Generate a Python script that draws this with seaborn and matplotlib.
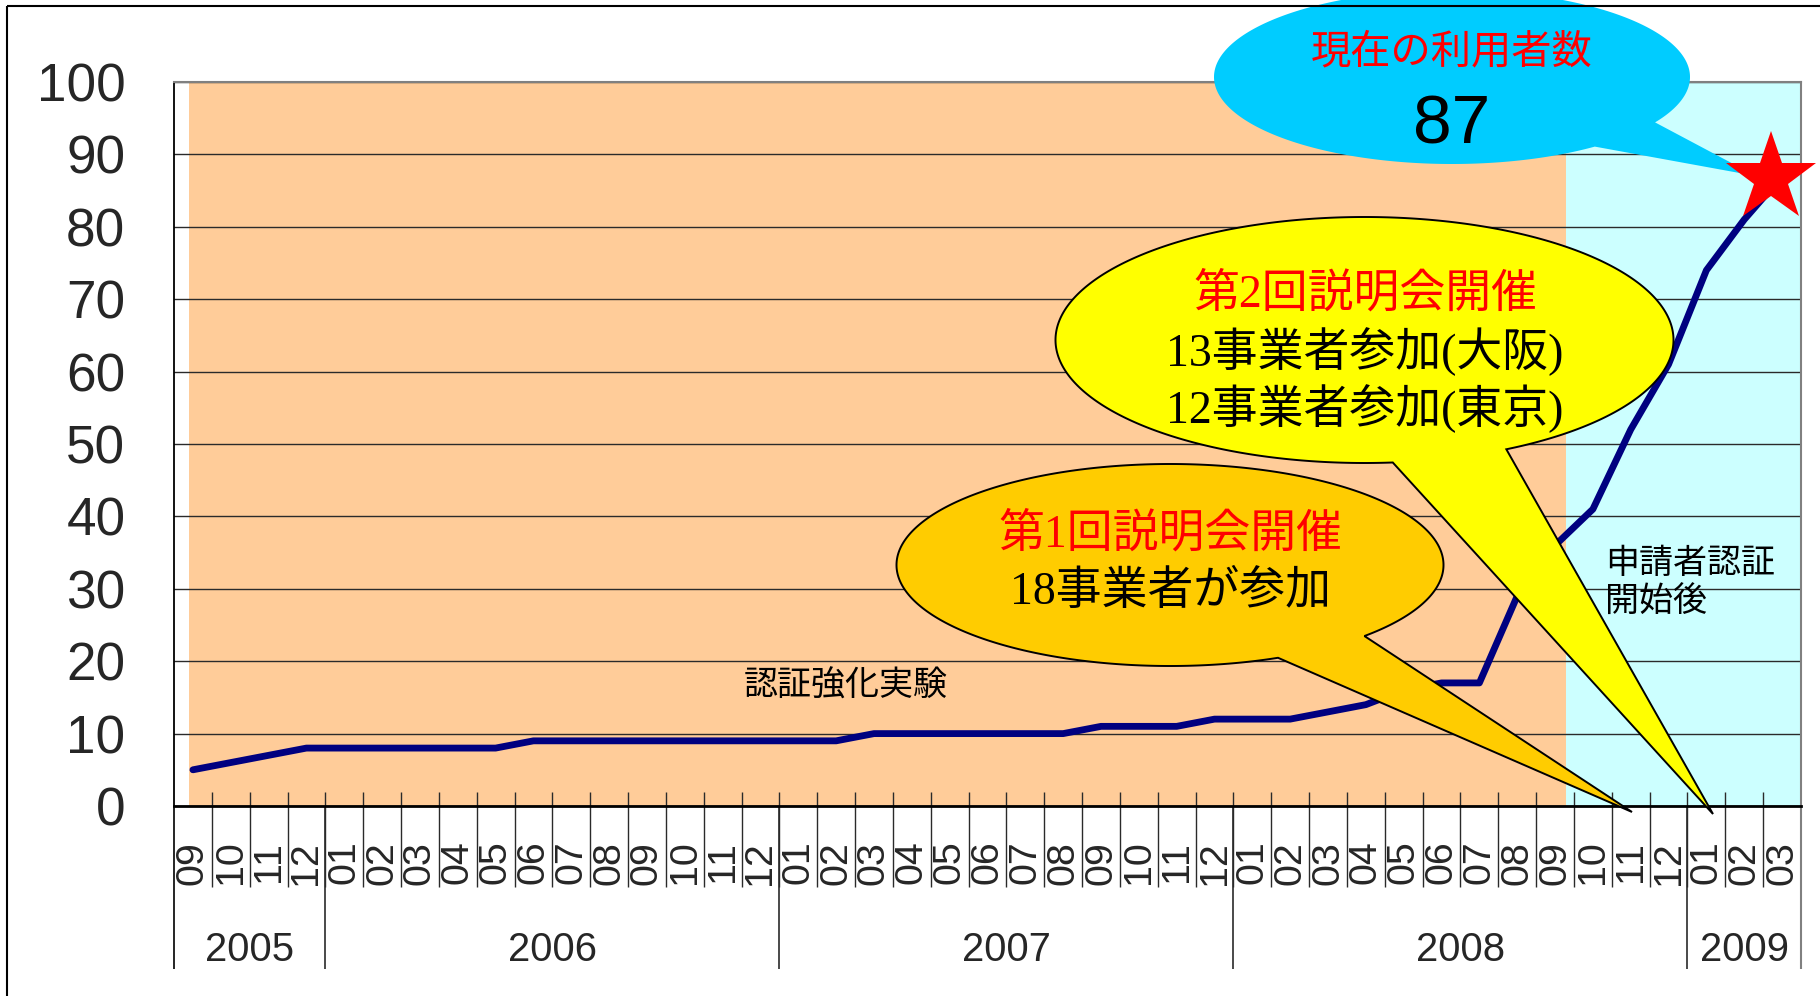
import numpy as np
import pandas as pd
import matplotlib
matplotlib.use("Agg")
import matplotlib.pyplot as plt
import matplotlib.transforms as mtransforms
from matplotlib.patches import Polygon, Rectangle
from matplotlib import font_manager as fm
import seaborn as sns

# ---------------- data ----------------
year_labels = ["2005", "2006", "2007", "2008", "2009"]
months_per_year = [4, 12, 12, 12, 3]
month_labels = (["09", "10", "11", "12"]
                + [f"{m:02d}" for m in range(1, 13)] * 3
                + ["01", "02", "03"])
users = [5, 6, 7, 8,
         8, 8, 8, 8, 8, 9, 9, 9, 9, 9, 9, 9,
         9, 9, 10, 10, 10, 10, 10, 10, 11, 11, 11, 12,
         12, 12, 13, 14, 16, 17, 17, 29, 36, 41, 52, 61,
         74, 81, 87]
y_ticks = list(range(0, 101, 10))

band_experiment_label = "認証強化実験"
band_after_label = "申請者認証\n開始後"
current_title = "現在の利用者数"
current_value = "87"
second_lines = ["第2回説明会開催", "13事業者参加(大阪)", "12事業者参加(東京)"]
first_lines = ["第1回説明会開催", "18事業者が参加"]

# ---------------- fonts ----------------
def has_font(name):
    try:
        fm.findfont(fm.FontProperties(family=name), fallback_to_default=False)
        return True
    except Exception:
        return False

if has_font("Liberation Sans Narrow"):
    NARROW, NS = "Liberation Sans Narrow", 1.0
else:
    NARROW, NS = "Liberation Sans", 0.86
CJK = ["Noto Sans CJK JP", "DejaVu Sans"]
SERIF_CJK = ["Liberation Serif", "Noto Sans CJK JP", "DejaVu Sans"]

sns.set_style("white")
plt.rcParams["font.family"] = CJK

# ---------------- figure / axes ----------------
W_PX, H_PX = 1820, 996
fig = plt.figure(figsize=(W_PX / 100, H_PX / 100), dpi=100)
ax_l, ax_r, ax_t, ax_b = 174, 1801, 82, 806
ax = fig.add_axes([ax_l / W_PX, 1 - ax_b / H_PX,
                   (ax_r - ax_l) / W_PX, (ax_b - ax_t) / H_PX])
px = mtransforms.Affine2D().scale(1 / W_PX, -1 / H_PX).translate(0, 1) + fig.transFigure

n = len(users)
df = pd.DataFrame({"idx": np.arange(n), "users": users})

# background bands
ax.axvspan(-0.1, 36.28, color="#FFCC99", lw=0, zorder=0)
ax.axvspan(36.28, n - 0.5, color="#CCFFFF", lw=0, zorder=0)

sns.lineplot(data=df, x="idx", y="users", ax=ax, color="#000080",
             linewidth=4.9, zorder=3, solid_capstyle="round")
ax.set_xlabel("")
ax.set_ylabel("")
ax.set_xlim(-0.5, n - 0.5)
ax.set_ylim(0, 100)

# grid
ax.set_yticks(y_ticks)
ax.set_yticklabels([str(v) for v in y_ticks], fontfamily=NARROW, fontsize=44.5 * NS)
ax.set_axisbelow("line")
ax.yaxis.grid(True, color="#2a2a2a", lw=1.0)
ax.xaxis.grid(False)
ax.tick_params(axis="y", length=0, pad=35)

# spines
for s in ("left", "bottom"):
    ax.spines[s].set_color("black")
ax.spines["left"].set_linewidth(1.3)
ax.spines["bottom"].set_linewidth(2.0)
for s in ("top", "right"):
    ax.spines[s].set_color("#808080")
    ax.spines[s].set_linewidth(1.5)

# month labels
ax.set_xticks(np.arange(n))
ax.set_xticklabels(month_labels, rotation=90, fontfamily=NARROW, fontsize=33 * NS)
ax.tick_params(axis="x", length=0, pad=25)

trans = mtransforms.blended_transform_factory(ax.transData, ax.transAxes)
ah = ax_b - ax_t
bounds = np.arange(0.5, n - 1, 1.0)
ax.vlines(bounds, -(887 - ax_b) / ah, 14 / ah, transform=trans,
          colors="#2a2a2a", lw=1.0, clip_on=False, zorder=2)
year_edges = np.cumsum([0] + months_per_year) - 0.5
ax.vlines(year_edges[:-1], -(969 - ax_b) / ah, 0, transform=trans,
          colors=["black"] + ["#2a2a2a"] * (len(year_edges) - 2), lw=1.2,
          clip_on=False, zorder=2)
ax.vlines([year_edges[-1]], -(969 - ax_b) / ah, 0, transform=trans,
          colors="#808080", lw=1.5, clip_on=False, zorder=2)
for lab, s, e in zip(year_labels, year_edges[:-1], year_edges[1:]):
    ax.text((s + e) / 2, -(950 - ax_b) / ah, lab, transform=trans,
            ha="center", va="center", fontfamily=NARROW, fontsize=33.5 * NS)

# band labels
ax.text(17.25, 16.5, band_experiment_label, ha="center", va="center",
        fontsize=24.5, color="black", zorder=4)
ax.text(37.33, 30.8, band_after_label, ha="left", va="center",
        fontsize=24.5, color="black", linespacing=1.15, zorder=4)

# ---------------- callouts ----------------
def callout(cx, cy, a, b, base1, base2, tip, fc, ec, lw, z):
    t1 = np.arctan2((base1[1] - cy) / b, (base1[0] - cx) / a)
    t2 = np.arctan2((base2[1] - cy) / b, (base2[0] - cx) / a)
    if t2 < t1:
        t2 += 2 * np.pi
    ts = np.linspace(t1, t2, 500)
    pts = np.column_stack([cx + a * np.cos(ts), cy + b * np.sin(ts)])
    pts = np.vstack([pts, tip])
    poly = Polygon(pts, closed=True, transform=px, facecolor=fc,
                   edgecolor=ec if ec else "none", lw=lw, clip_on=False,
                   zorder=z, joinstyle="miter")
    ax.add_patch(poly)

callout(1170, 565, 273.5, 101, (1280, 659.5), (1366, 636.6), (1632, 812),
        "#FFCC00", "black", 1.4, 5)
callout(1364.5, 340, 309, 123, (1393, 463.5), (1506.5, 449.4), (1713, 814),
        "#FFFF00", "black", 1.4, 6)
callout(1452, 77, 238, 87, (1595, 146.7), (1656.5, 122.7), (1756, 176),
        "#00CCFF", None, 0, 7)

def ftext(x, y, s, color, size, family):
    ax.text(x, y, s, transform=px, ha="center", va="center", color=color,
            fontsize=size, fontfamily=family, zorder=8, clip_on=False)

ftext(1452, 52, current_title, "#FF0000", 29, CJK)
ftext(1452, 125, current_value, "black", 50, NARROW)
for i, s in enumerate(second_lines):
    ftext(1365, 295 + 57 * i, s, "#FF0000" if i == 0 else "black", 33, SERIF_CJK)
for i, s in enumerate(first_lines):
    ftext(1170, 535 + 57 * i, s, "#FF0000" if i == 0 else "black", 33, SERIF_CJK)

# star on the latest value (drawn slightly left/down as in the original shape)
star_shift = mtransforms.ScaledTranslation(-11 / 100, -2 / 100, fig.dpi_scale_trans)
ax.plot([df["idx"].iloc[-1]], [df["users"].iloc[-1]], marker="*", ms=68,
        color="#FF0000", mew=0, clip_on=False, zorder=10, linestyle="none",
        transform=ax.transData + star_shift)

# outer frame (left/top visible)
fig.add_artist(Rectangle((7, 6), 1850, 1020, transform=px, fill=False,
                         edgecolor="black", lw=1.5, clip_on=False))

fig.savefig("out.png", dpi=100, facecolor="white")
